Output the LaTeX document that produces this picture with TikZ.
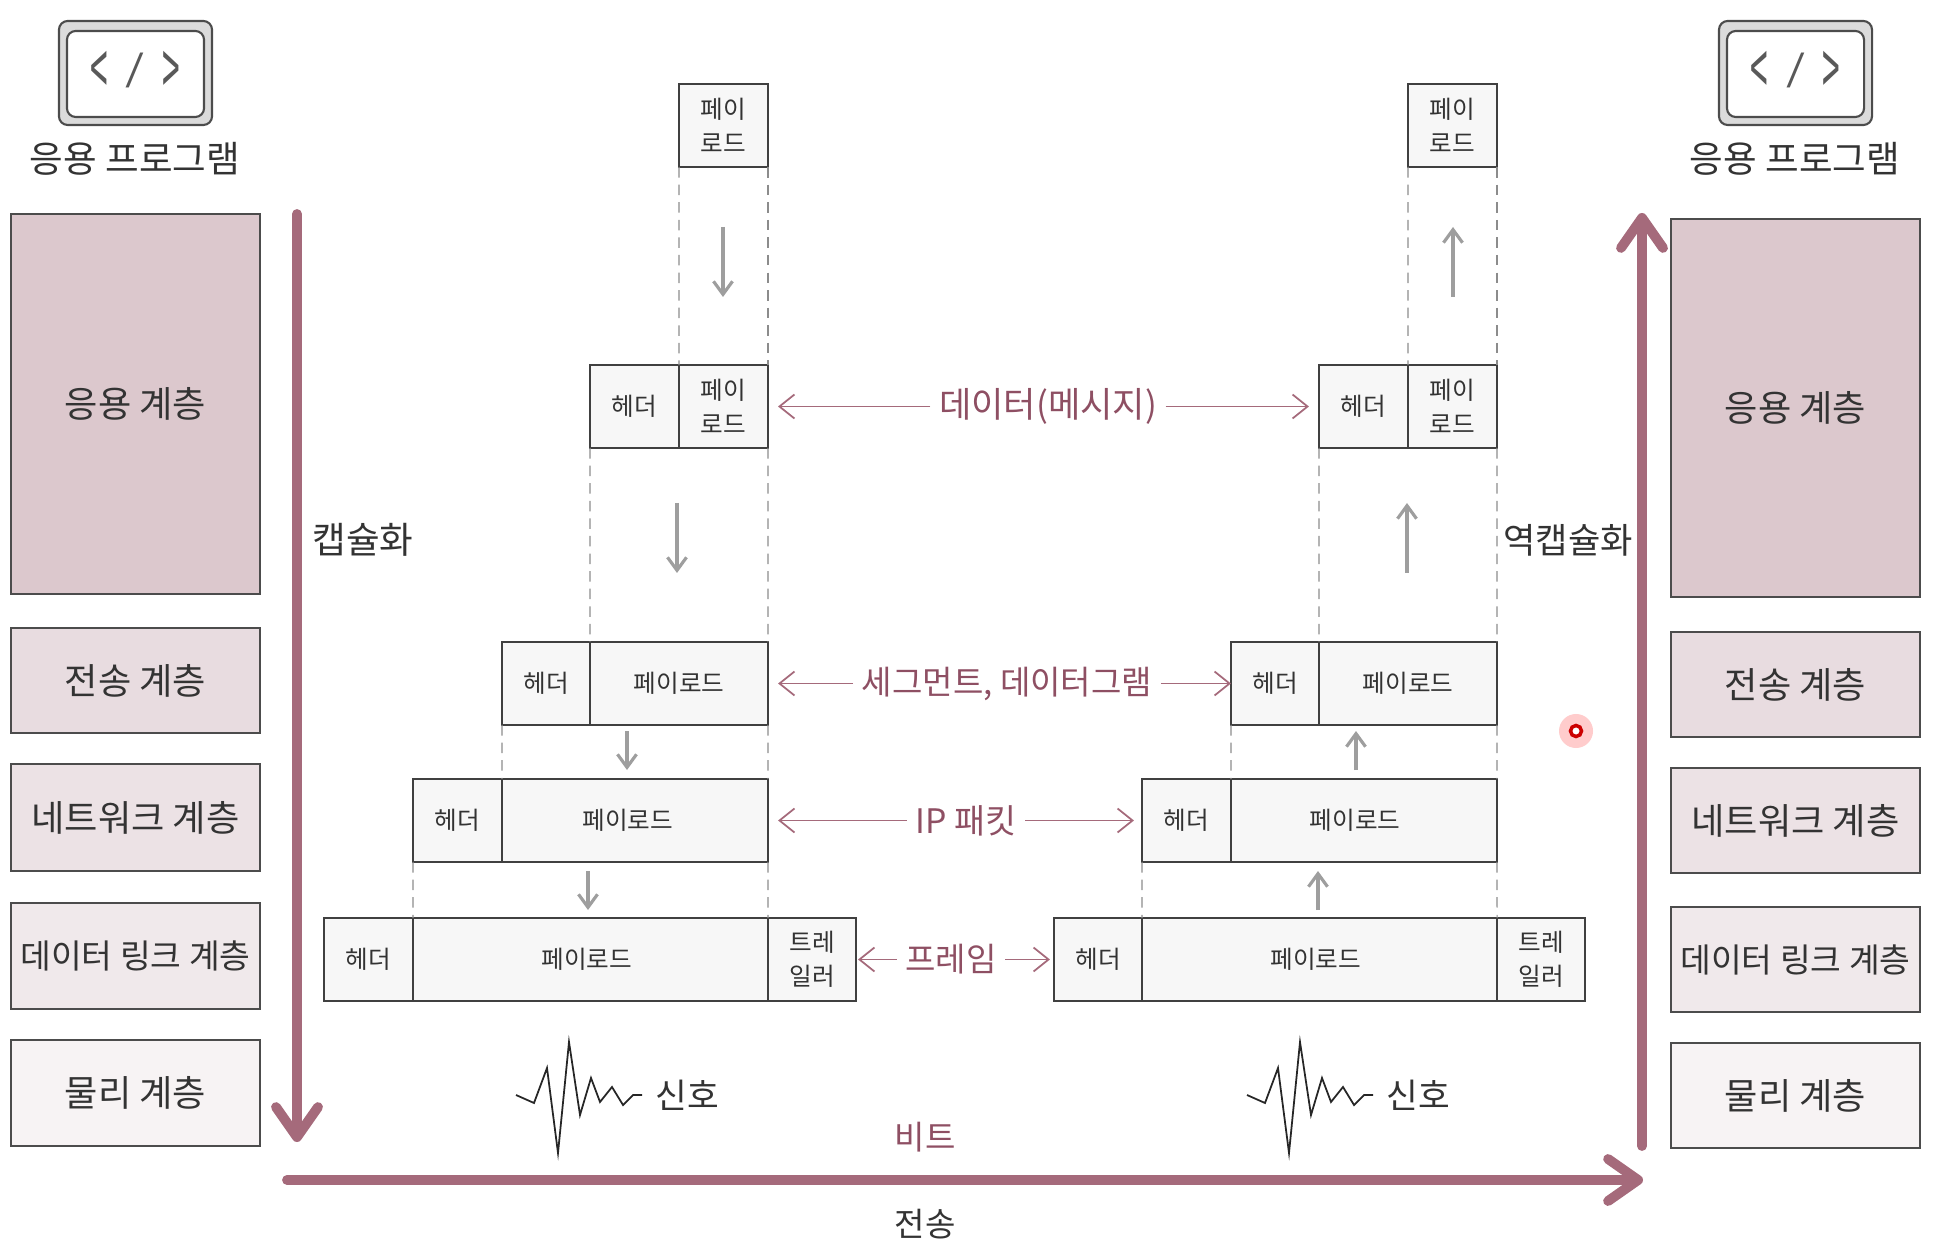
\documentclass[tikz,border=0pt]{standalone}
\usepackage{fontspec}
\usepackage{xcolor}
\usepackage{graphicx}
\setmainfont{Noto Sans CJK KR}
\usetikzlibrary{
    arrows.meta,
    positioning
}
\definecolor{inkdark}{HTML}{333333}
\definecolor{rosedeep}{HTML}{A56A7B}
\definecolor{rosetext}{HTML}{8E4F63}
\definecolor{layerA}{HTML}{DCC8CD}
\definecolor{layerB}{HTML}{E8DCE0}
\definecolor{layerC}{HTML}{ECE2E5}
\definecolor{layerD}{HTML}{F0E9EB}
\definecolor{layerE}{HTML}{F7F3F4}
\newcommand{\codemark}{\color{black!65}\fontsize{12}{14}\selectfont
    \raisebox{-5.4pt}{\scalebox{0.75}[1.8]{\textless}}\hspace{5pt}%
    \raisebox{-1.2pt}{\scalebox{1.15}[0.85]{/}}\hspace{5pt}%
    \raisebox{-5.4pt}{\scalebox{0.75}[1.8]{\textgreater}}}

\begin{document}
\begin{tikzpicture}[
    x=0.01cm,
    y=-0.01cm,
    text=inkdark,
    layerbox/.style={
        rectangle,
        draw=black!70,
        semithick,
        align=center,
        inner sep=0pt,
        minimum width=2.49cm,
        font=\fontsize{10.3}{12}\selectfont
    },
    cell/.style={
        rectangle,
        draw=black!75,
        semithick,
        fill=black!3,
        align=center,
        inner sep=0pt,
        outer sep=0pt,
        minimum height=0.83cm,
        font=\fontsize{7}{9.6}\selectfont
    },
    guide/.style={
        draw=black!45,
        densely dashed,
        line width=0.35pt
    },
    flow/.style={
        -{Straight Barb[length=1.3mm,width=1.9mm]},
        draw=black!38,
        line width=0.9pt
    },
    tagarrow/.style={
        -{Straight Barb[length=1.5mm,width=2.4mm]},
        draw=rosedeep,
        line width=0.5pt
    },
    tag/.style={
        text=rosetext,
        inner sep=0.08cm,
        font=\fontsize{9.4}{11}\selectfont
    },
    bigarrow/.style={
        -{Straight Barb[round,length=3mm,width=4.2mm]},
        draw=rosedeep,
        line cap=round,
        line width=2.8pt
    },
    caption/.style={
        font=\fontsize{10.4}{12}\selectfont
    },
    wave/.style={
        draw=black!85,
        line width=0.5pt,
        line join=miter
    },
    icon/.style={
        rectangle,
        rounded corners=2.5pt,
        draw=black!70,
        semithick
    }
]
\useasboundingbox (0,0) rectangle (1942,1252);

% =========================================================
% Application icons
% =========================================================
\node[icon, fill=black!14, minimum width=1.53cm, minimum height=1.04cm] (liconout) at (135.5,73) {};
\node[icon, fill=white, minimum width=1.37cm, minimum height=0.86cm] (liconin) at (135.5,74) {\codemark};
\node[caption] (lapp) at (135,159) {응용 프로그램};

\node[icon, fill=black!14, minimum width=1.53cm, minimum height=1.04cm] (riconout) at (1795.5,73) {};
\node[icon, fill=white, minimum width=1.37cm, minimum height=0.86cm] (riconin) at (1795.5,74) {\codemark};
\node[caption] (rapp) at (1795,159) {응용 프로그램};

% =========================================================
% Layer stacks
% =========================================================
\node[layerbox, fill=layerA, minimum height=3.80cm] (lapl) at (135.5,404) {응용 계층};
\node[layerbox, fill=layerB, minimum height=1.05cm] (ltrn) at (135.5,680.5) {전송 계층};
\node[layerbox, fill=layerC, minimum height=1.07cm] (lnet) at (135.5,817.5) {네트워크 계층};
\node[layerbox, fill=layerD, minimum height=1.06cm] (llnk) at (135.5,956) {\fontsize{9.5}{12}\selectfont 데이터 링크 계층};
\node[layerbox, fill=layerE, minimum height=1.06cm] (lphy) at (135.5,1093) {물리 계층};

\node[layerbox, fill=layerA, minimum height=3.78cm] (rapl) at (1795.5,408) {응용 계층};
\node[layerbox, fill=layerB, minimum height=1.05cm] (rtrn) at (1795.5,684.5) {전송 계층};
\node[layerbox, fill=layerC, minimum height=1.05cm] (rnet) at (1795.5,820.5) {네트워크 계층};
\node[layerbox, fill=layerD, minimum height=1.05cm] (rlnk) at (1795.5,959.5) {\fontsize{9.5}{12}\selectfont 데이터 링크 계층};
\node[layerbox, fill=layerE, minimum height=1.05cm] (rphy) at (1795.5,1095.5) {물리 계층};

% =========================================================
% Sending side
% =========================================================
\node[cell, minimum width=0.89cm] (lpayA) at (723.5,125.5) {페이\\로드};

\node[cell, minimum width=0.89cm] (lhdrB) at (634.5,406.5) {헤더};
\node[cell, minimum width=0.89cm] (lpayB) at (723.5,406.5) {페이\\로드};

\node[cell, minimum width=0.88cm] (lhdrC) at (546,683.5) {헤더};
\node[cell, minimum width=1.78cm] (lpayC) at (679,683.5) {페이로드};

\node[cell, minimum width=0.89cm] (lhdrD) at (457.5,820.5) {헤더};
\node[cell, minimum width=2.66cm] (lpayD) at (635,820.5) {\hspace*{-4pt}페이로드};

\node[cell, minimum width=0.89cm] (lhdrE) at (368.5,959.5) {헤더};
\node[cell, minimum width=3.55cm] (lpayE) at (590.5,959.5) {\hspace*{-2pt}페이로드};
\node[cell, minimum width=0.88cm] (ltrlE) at (812,959.5) {트레\\일러};

% =========================================================
% Receiving side
% =========================================================
\node[cell, minimum width=0.89cm] (rpayA) at (1452.5,125.5) {페이\\로드};

\node[cell, minimum width=0.89cm] (rhdrB) at (1363.5,406.5) {헤더};
\node[cell, minimum width=0.89cm] (rpayB) at (1452.5,406.5) {페이\\로드};

\node[cell, minimum width=0.88cm] (rhdrC) at (1275,683.5) {헤더};
\node[cell, minimum width=1.78cm] (rpayC) at (1408,683.5) {페이로드};

\node[cell, minimum width=0.89cm] (rhdrD) at (1186.5,820.5) {헤더};
\node[cell, minimum width=2.66cm] (rpayD) at (1364,820.5) {\hspace*{-5pt}페이로드};

\node[cell, minimum width=0.88cm] (rhdrE) at (1098,959.5) {헤더};
\node[cell, minimum width=3.55cm] (rpayE) at (1319.5,959.5) {\hspace*{-2pt}페이로드};
\node[cell, minimum width=0.88cm] (rtrlE) at (1541,959.5) {트레\\일러};

% =========================================================
% Dashed guides
% =========================================================
\draw[guide] (lpayA.south west) -- (lhdrB.north east);
\draw[guide] (lpayA.south east) -- (lpayB.north east);
\draw[guide] (lhdrB.south west) -- (lhdrC.north east);
\draw[guide] (lpayB.south east) -- (lpayC.north east);
\draw[guide] (lhdrC.south west) -- (lhdrD.north east);
\draw[guide] (lpayC.south east) -- (lpayD.north east);
\draw[guide] (lhdrD.south west) -- (lhdrE.north east);
\draw[guide] (lpayD.south east) -- (lpayE.north east);

\draw[guide] (rpayA.south west) -- (rhdrB.north east);
\draw[guide] (rpayA.south east) -- (rpayB.north east);
\draw[guide] (rhdrB.south west) -- (rhdrC.north east);
\draw[guide] (rpayB.south east) -- (rpayC.north east);
\draw[guide] (rhdrC.south west) -- (rhdrD.north east);
\draw[guide] (rpayC.south east) -- (rpayD.north east);
\draw[guide] (rhdrD.south west) -- (rhdrE.north east);
\draw[guide] (rpayD.south east) -- (rpayE.north east);

% =========================================================
% Grey step arrows
% =========================================================
\coordinate (ldownAs) at (723,227);
\coordinate (ldownAe) at (723,297);
\coordinate (ldownBs) at (677,503);
\coordinate (ldownBe) at (677,573);
\coordinate (ldownCs) at (627,731);
\coordinate (ldownCe) at (627,770);
\coordinate (ldownDs) at (588,871);
\coordinate (ldownDe) at (588,910);
\coordinate (rupAs) at (1453,297);
\coordinate (rupAe) at (1453,227);
\coordinate (rupBs) at (1407,573);
\coordinate (rupBe) at (1407,503);
\coordinate (rupCs) at (1356,770);
\coordinate (rupCe) at (1356,731);
\coordinate (rupDs) at (1318,910);
\coordinate (rupDe) at (1318,871);

\draw[flow] (ldownAs) -- (ldownAe);
\draw[flow] (ldownBs) -- (ldownBe);
\draw[flow] (ldownCs) -- (ldownCe);
\draw[flow] (ldownDs) -- (ldownDe);
\draw[flow] (rupAs) -- (rupAe);
\draw[flow] (rupBs) -- (rupBe);
\draw[flow] (rupCs) -- (rupCe);
\draw[flow] (rupDs) -- (rupDe);

% =========================================================
% Unit names
% =========================================================
\node[tag, font=\fontsize{10}{12}\selectfont] (message) at (1048,406.5) {데이터(메시지)};
\node[tag] (segment) at (1007,683.5) {세그먼트, 데이터그램};
\node[tag, font=\fontsize{9.6}{11}\selectfont] (packet) at (966,820.5) {IP 패킷};
\node[tag] (frame) at (951,959.5) {프레임};

\draw[tagarrow, shorten >=0.1cm] (message) -- (lpayB.east);
\draw[tagarrow, shorten >=0.1cm] (message) -- (rhdrB.west);
\draw[tagarrow, shorten >=0.1cm] (segment) -- (lpayC.east);
\draw[tagarrow] (segment) -- (rhdrC.west);
\draw[tagarrow, shorten >=0.1cm] (packet) -- (lpayD.east);
\draw[tagarrow, shorten >=0.08cm] (packet) -- (rhdrD.west);
\draw[tagarrow, shorten >=0.02cm] (frame) -- (ltrlE.east);
\draw[tagarrow, shorten >=0.04cm] (frame) -- (rhdrE.west);

% =========================================================
% Signals
% =========================================================
\draw[wave] (516,1095) -- (534,1103) -- (547,1068) -- (558,1153) -- (569,1042) -- (580,1115)
    -- (591,1078) -- (600,1102) -- (612,1087) -- (623,1105) -- (633,1095) -- (642,1095);
\draw[wave] (1247,1095) -- (1265,1103) -- (1278,1068) -- (1289,1153) -- (1300,1042) -- (1311,1115)
    -- (1322,1078) -- (1331,1102) -- (1343,1087) -- (1354,1105) -- (1364,1095) -- (1373,1095);

\node[caption, font=\fontsize{9.8}{12}\selectfont] (lsignal) at (687,1095) {신호};
\node[caption, font=\fontsize{9.8}{12}\selectfont] (rsignal) at (1418,1095) {신호};

% =========================================================
% Main arrows
% =========================================================
\coordinate (encstart) at (297,214);
\coordinate (encend) at (297,1142);
\coordinate (sendstart) at (287,1180);
\coordinate (sendend) at (1643,1180);
\coordinate (decstart) at (1642,1146);
\coordinate (decend) at (1642,213);

\draw[bigarrow] (encstart) -- (encend);
\draw[bigarrow] (sendstart) -- (sendend);
\draw[bigarrow] (decstart) -- (decend);

\node[caption] (encap) at (363,540) {캡슐화};
\node[caption, font=\fontsize{10}{12}\selectfont] (decap) at (1568,540) {역캡슐화};
\node[tag] (bits) at (925,1137) {비트};
\node[caption, font=\fontsize{9.4}{11}\selectfont] (trans) at (925,1224) {전송};

% =========================================================
% Pointer mark
% =========================================================
\fill[red, fill opacity=0.2] (1576,731) circle (0.17cm);
\draw[red!80!black, line width=1pt, fill=white] (1576,731) circle (0.055cm);

\end{tikzpicture}
\end{document}
